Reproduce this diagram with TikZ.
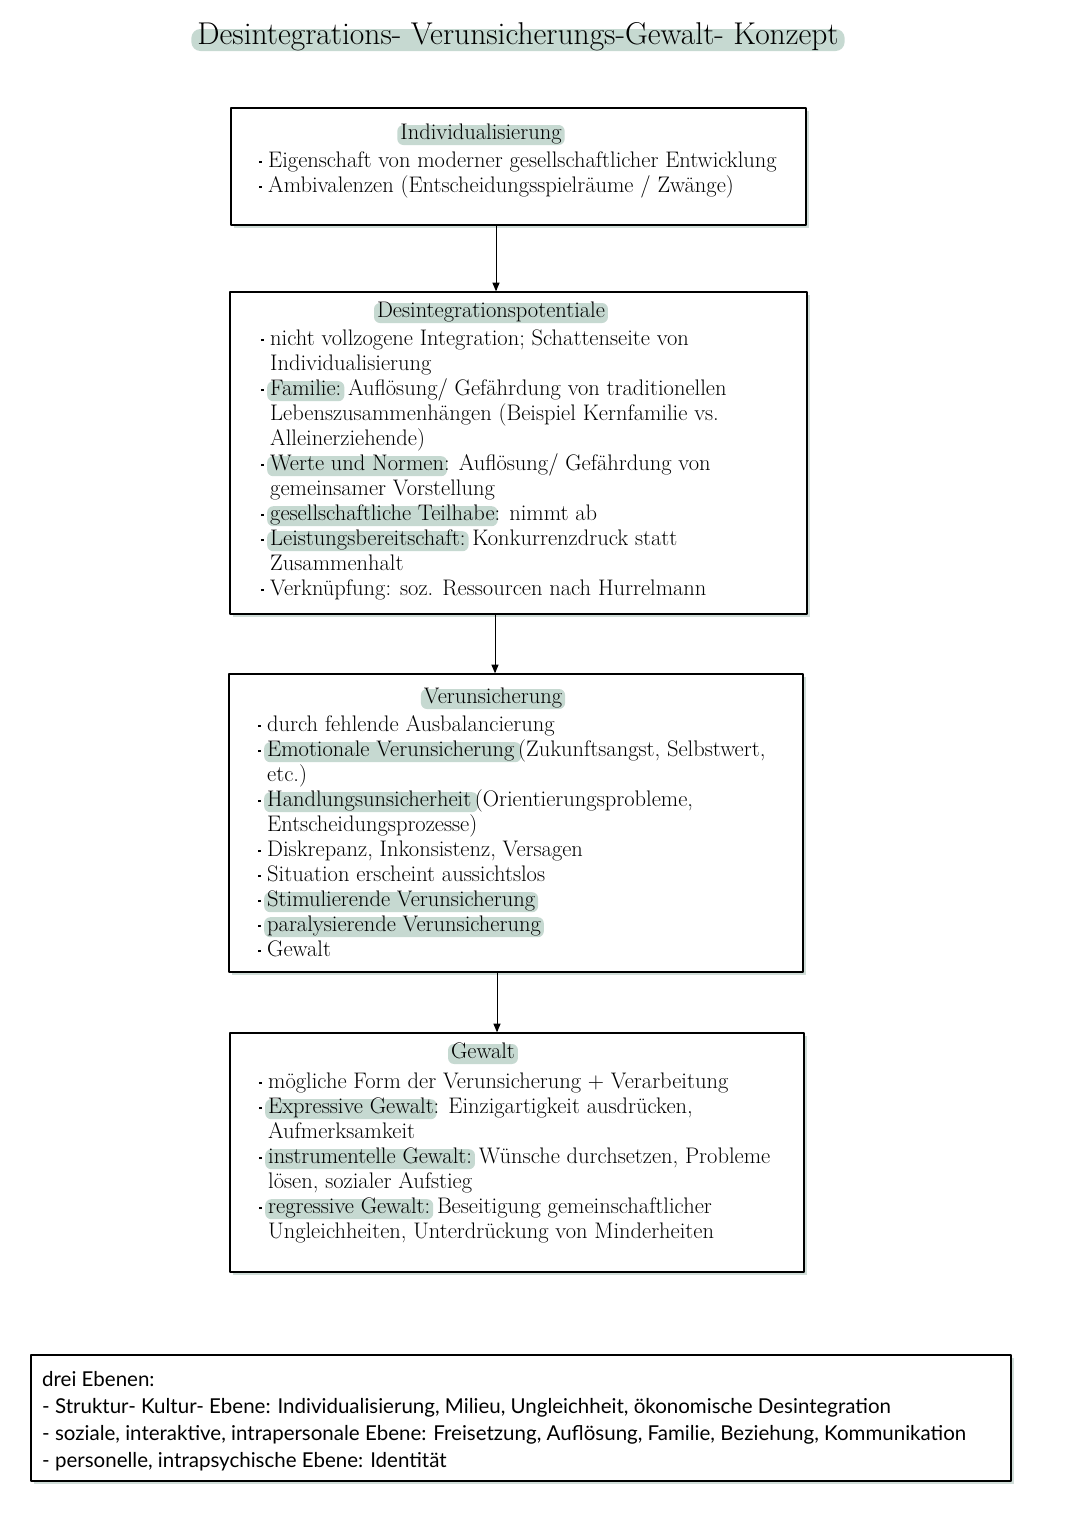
\documentclass[tikz,border=0pt]{standalone}
\usepackage{fontspec}
\newfontfamily\notesans{Lato}
\usetikzlibrary{arrows,shadows}
\definecolor{hlgreen}{HTML}{C6D9D1}
\definecolor{boxshade}{HTML}{D0DDD8}
\newcommand{\bul}{\makebox[9pt][l]{\rule[4pt]{2.4pt}{2.4pt}}}
\newcommand{\ind}{\hspace*{9pt}}
\newcommand{\hlt}[1]{\hspace{-3pt}\smash{\tikz[baseline=(hl.base)]\node[hlbox](hl){#1};}\hspace{-3pt}}
\tikzset{hlbox/.style={fill=hlgreen,rounded corners=6pt,inner xsep=3pt,inner ysep=1pt,text height=13pt,text depth=5pt}}

\begin{document}
\begin{tikzpicture}[line cap=round,line join=round,>=triangle 45,x=1pt,y=-1pt,
    box/.style={draw=black,line width=1.5pt,fill=white,inner sep=0pt,
      drop shadow={shadow xshift=2.5pt,shadow yshift=-2.5pt,fill=boxshade,opacity=1}},
    body/.style={anchor=north west,inner sep=0pt,align=left,font={\fontsize{22.5pt}{25pt}\selectfont}},
    head/.style={hlbox,anchor=base,font={\fontsize{22.5pt}{25pt}\selectfont}}]
\useasboundingbox (0,0) rectangle (1080,1527);
% title
\node[hlbox,anchor=base,rounded corners=9pt,inner xsep=6pt,text height=14pt,text depth=6pt,font={\fontsize{31.5pt}{34pt}\selectfont}] (title) at (518,44) {Desintegrations- Verunsicherungs-Gewalt- Konzept};
% boxes
\node[box,minimum width=575,minimum height=117] (b1) at (518.5,166.5) {};
\node[box,minimum width=577,minimum height=322] (b2) at (518.5,453) {};
\node[box,minimum width=574,minimum height=298] (b3) at (516,823) {};
\node[box,minimum width=574,minimum height=239] (b4) at (517,1152.5) {};
\node[box,line width=1.3pt,minimum width=980,minimum height=126] (b5) at (521,1418) {};
% headings
\node[head] (h1) at (481,139) {Individualisierung};
\node[head] (h2) at (491,317) {Desintegrationspotentiale};
\node[head] (h3) at (493,703) {Verunsicherung};
\node[head] (h4) at (483,1058) {Gewalt};
% texts
\node[body] (t1) at (259,149) {\rule{0pt}{18pt}\bul Eigenschaft von moderner gesellschaftlicher Entwicklung\\
\bul Ambivalenzen (Entscheidungsspielräume / Zwänge)};
\node[body] (t2) at (261,327) {\rule{0pt}{18pt}\bul nicht vollzogene Integration; Schattenseite von\\
\ind Individualisierung\\
\bul\hlt{Familie:} Auflösung/ Gefährdung von traditionellen\\
\ind Lebenszusammenhängen (Beispiel Kernfamilie vs.\\
\ind Alleinerziehende)\\
\bul\hlt{Werte und Normen}: Auflösung/ Gefährdung von\\
\ind gemeinsamer Vorstellung\\
\bul\hlt{gesellschaftliche Teilhabe}: nimmt ab\\
\bul\hlt{Leistungsbereitschaft:} Konkurrenzdruck statt\\
\ind Zusammenhalt\\
\bul Verknüpfung: soz. Ressourcen nach Hurrelmann};
\node[body] (t3) at (258,713) {\rule{0pt}{18pt}\bul durch fehlende Ausbalancierung\\
\bul\hlt{Emotionale Verunsicherung\,}(Zukunftsangst, Selbstwert,\\
\ind etc.)\\
\bul\hlt{Handlungsunsicherheit\,}(Orientierungsprobleme,\\
\ind Entscheidungsprozesse)\\
\bul Diskrepanz, Inkonsistenz, Versagen\\
\bul Situation erscheint aussichtslos\\
\bul\hlt{Stimulierende Verunsicherung}\\
\bul\hlt{paralysierende Verunsicherung}\\
\bul Gewalt};
\node[body] (t4) at (259,1070) {\rule{0pt}{18pt}\bul mögliche Form der Verunsicherung + Verarbeitung\\
\bul\hlt{Expressive Gewalt}: Einzigartigkeit ausdrücken,\\
\ind Aufmerksamkeit\\
\bul\hlt{instrumentelle Gewalt:} Wünsche durchsetzen, Probleme\\
\ind lösen, sozialer Aufstieg\\
\bul\hlt{regressive Gewalt:} Beseitigung gemeinschaftlicher\\
\ind Ungleichheiten, Unterdrückung von Minderheiten};
\node[body,font={\notesans\fontsize{20.5pt}{27pt}\selectfont}] (t5) at (42,1369) {\rule{0pt}{17pt}drei Ebenen:\\
- Struktur- Kultur- Ebene: Individualisierung, Milieu, Ungleichheit, ökonomische Desintegration\\
- soziale, interaktive, intrapersonale Ebene: Freisetzung, Auflösung, Familie, Beziehung, Kommunikation\\
- personelle, intrapsychische Ebene: Identität};
% arrows
\coordinate (a1) at (496,0);
\coordinate (a2) at (495,0);
\coordinate (a3) at (497,0);
\draw[->,line width=1pt] (a1 |- b1.south) -- (a1 |- b2.north);
\draw[->,line width=1pt] (a2 |- b2.south) -- (a2 |- b3.north);
\draw[->,line width=1pt] (a3 |- b3.south) -- (a3 |- b4.north);
\end{tikzpicture}
\end{document}
